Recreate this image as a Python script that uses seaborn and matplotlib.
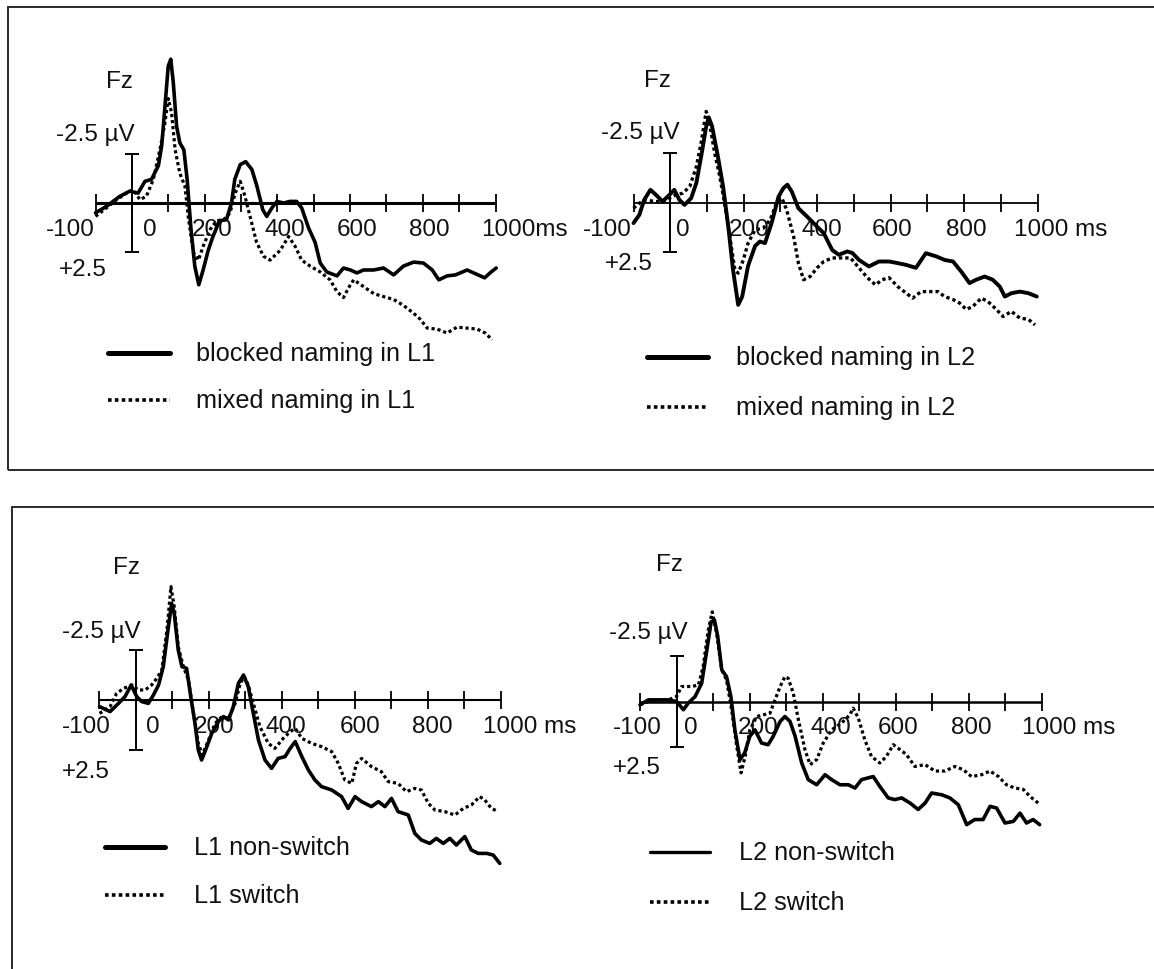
import numpy as np
import pandas as pd
import matplotlib
matplotlib.use("Agg")
import matplotlib.pyplot as plt
import seaborn as sns
from matplotlib.lines import Line2D
from matplotlib.patches import Rectangle

# ---------------- data (ms, µV; positive values plotted downward) ----------------
TICKS = [-100, 0, 100, 200, 300, 400, 500, 600, 700, 800, 900, 1000]
TICK_LABELS = ["-100", "0", "200", "400", "600", "800"]
CAL_UV = 2.5

tl_blocked_x = [-100,-70,-33,-6,17,36,54,73,82,91,100,107,114,123,132,143,152,162,173,184,
                196,210,223,241,260,274,283,298,313,330,344,360,371,385,399,417,435,453,467,486,
                504,518,536,564,582,601,619,637,665,692,720,747,775,802,826,844,867,890,922,940,
                970,988,1002]
tl_blocked_y = [0.5,0.17,-0.34,-0.6,-0.5,-1.1,-1.2,-1.9,-2.9,-4.9,-6.95,-7.3,-6.1,-3.9,-3.05,-2.7,-1.2,1.2,3.2,4.15,
                3.4,2.4,1.7,0.9,0.85,0,-1.2,-1.95,-2.1,-1.7,-0.85,0.34,0.68,0.25,-0.08,0,-0.08,-0.08,0.25,1.27,
                2.0,3.05,3.5,3.7,3.3,3.4,3.55,3.4,3.4,3.3,3.65,3.2,3.0,3.05,3.4,3.9,3.7,3.65,3.4,3.55,
                3.8,3.5,3.3]
tl_mixed_x = [-100,-70,-42,-15,4,22,40,59,77,91,100,109,119,132,146,155,169,183,196,215,
              233,252,270,284,298,311,325,343,362,380,408,431,449,467,490,518,545,564,582,596,
              610,637,665,692,720,747,775,793,812,839,867,894,922,949,972,991]
tl_mixed_y = [0.68,0.25,-0.17,-0.5,-0.68,-0.17,-0.34,-1.2,-2.7,-4.07,-5.3,-4.6,-2.7,-1.5,-0.85,0.68,2.5,2.9,2.2,1.35,
              0.9,0.85,0.5,-0.5,-1.1,-0.34,0.68,2.0,2.7,2.9,2.4,1.7,2.2,2.9,3.2,3.5,3.9,4.5,4.8,4.3,
              3.9,4.24,4.6,4.75,4.9,5.2,5.6,5.9,6.35,6.4,6.6,6.3,6.35,6.4,6.6,6.95]

tr_blocked_x = [-100,-84,-71,-54,-39,-21,-2,11,25,39,57,71,84,98,105,114,130,144,158,171,
                185,196,212,231,244,258,276,295,308,319,331,349,372,395,418,441,459,482,496,514,
                541,568,596,619,642,669,696,724,747,770,792,815,833,856,878,897,911,929,952,975,998]
tr_blocked_y = [1.04,0.62,-0.13,-0.64,-0.39,-0.05,-0.39,-0.64,-0.13,0.12,-0.22,-0.98,-2.3,-3.84,-4.3,-3.84,-2.3,-0.8,1.2,3.4,
                5.17,4.75,3.2,2.2,1.97,2.05,1.04,-0.3,-0.72,-0.9,-0.55,0.29,0.7,1.13,1.55,2.4,2.64,2.47,2.55,2.9,
                3.23,2.98,2.98,3.06,3.15,3.3,2.56,2.72,2.9,2.98,3.48,4.07,3.9,3.74,3.9,4.24,4.75,4.58,4.5,4.58,4.75]
tr_mixed_x = [-100,-84,-66,-43,-21,-2,16,34,53,71,84,98,107,121,135,148,162,176,185,199,
              212,231,253,272,290,304,317,336,349,363,381,400,418,441,468,491,514,537,559,577,
              596,619,637,660,683,706,729,747,770,788,806,824,847,865,888,906,929,952,975,993]
tr_mixed_y = [0.29,0.03,-0.13,-0.05,-0.05,-0.22,-0.39,-0.47,-0.8,-1.8,-3.0,-4.6,-4.0,-2.5,-1.3,0.03,1.7,3.4,3.57,2.9,
              2.05,1.38,1.3,0.88,0,-0.22,0.37,1.72,3.06,3.9,3.74,3.3,2.98,2.8,2.8,2.8,3.3,3.8,4.16,3.9,
              3.8,4.24,4.5,4.83,4.5,4.5,4.5,4.75,4.9,5.08,5.4,5.25,4.83,5.0,5.4,5.76,5.5,5.84,5.9,6.18]

bl_nonswitch_x = [-100,-71,-48,-30,-13,2,16,34,48,62,75,89,98,105,116,126,139,151,162,171,
                  180,191,208,226,240,254,267,281,295,308,322,336,354,372,390,409,423,437,455,473,
                  491,509,537,564,582,601,619,646,665,683,701,719,747,765,783,806,824,843,861,879,
                  902,920,939,962,980,998]
bl_nonswitch_y = [0.33,0.58,0.17,-0.17,-0.75,-0.17,0.08,0.17,-0.25,-0.75,-1.67,-3.67,-4.83,-4.33,-2.5,-1.67,-1.58,-0.08,1.17,2.5,
                  3.0,2.5,1.67,1.08,0.83,1.0,0.33,-0.83,-1.25,-0.67,0.67,2.0,3.0,3.42,2.92,2.83,2.42,2.08,2.83,3.5,
                  4.0,4.33,4.5,4.83,5.42,4.83,5.08,5.33,5.08,5.33,4.92,5.58,5.75,6.67,7.0,7.17,6.92,7.17,6.92,7.25,
                  6.83,7.5,7.67,7.67,7.75,8.17]
bl_switch_x = [-100,-71,-53,-34,-11,7,25,43,57,71,85,96,105,116,130,144,158,171,182,199,
               217,236,254,272,286,297,308,322,340,363,381,404,423,437,455,482,509,537,555,573,
               592,605,619,646,673,692,719,742,765,783,802,820,847,875,898,920,943,957,975,994]
bl_switch_y = [0.67,0.33,-0.33,-0.58,-0.75,-0.5,-0.5,-0.75,-1.08,-1.5,-3.5,-5.67,-4.67,-2.67,-1.67,-1.0,0.67,2.17,2.75,2.0,
               1.17,0.83,0.92,0.17,-0.83,-1.17,-0.75,0.17,1.33,2.17,2.42,1.92,1.58,1.42,1.92,2.17,2.33,2.58,3.17,4.0,
               4.17,3.17,2.92,3.33,3.58,4.08,4.17,4.58,4.42,4.5,5.17,5.5,5.58,5.75,5.42,5.25,4.83,5.0,5.42,5.58]

br_nonswitch_x = [-100,-77,-50,-22,0,19,32,51,69,83,95,104,113,124,137,149,160,174,187,201,
                  215,233,251,265,284,297,311,325,343,361,384,407,425,448,471,489,507,539,557,580,
                  598,617,640,662,681,699,727,749,772,795,817,840,859,877,900,923,941,959,977,995]
br_nonswitch_y = [0.18,-0.09,-0.09,-0.09,0,0.45,0.09,-0.27,-1.0,-2.8,-4.36,-4.45,-3.55,-1.73,-1.36,-0.27,1.55,3.18,2.8,1.9,
                  1.55,2.27,2.36,1.9,1.09,0.82,1.09,1.9,3.36,4.27,4.55,4.0,4.27,4.55,4.55,4.73,4.27,4.1,4.64,5.27,
                  5.36,5.27,5.55,5.9,5.55,5.0,5.1,5.27,5.64,6.73,6.45,6.45,5.73,5.82,6.64,6.55,6.1,6.64,6.45,6.73]
br_switch_x = [-100,-77,-50,-22,0,14,42,60,73,87,98,110,124,137,151,165,177,188,201,220,
               238,256,270,284,297,306,320,334,352,366,384,402,425,452,475,484,498,516,534,557,
               575,594,607,630,653,681,708,735,763,786,808,836,859,882,904,927,950,968,991]
br_switch_y = [0.18,0,-0.09,-0.09,-0.27,-0.82,-0.82,-0.9,-1.9,-3.9,-4.9,-3.7,-1.73,-1.18,0.45,2.45,3.9,3.0,1.55,0.82,
               0.73,0.64,-0.09,-0.82,-1.36,-1.27,-0.45,1.0,2.64,3.45,3.18,2.27,1.55,1.18,0.73,0.36,0.9,2.1,3.0,3.36,
               3.0,2.36,2.55,2.9,3.55,3.45,3.8,3.8,3.55,3.73,4.1,4.0,3.8,4.1,4.55,4.73,4.8,5.18,5.55]

LEGEND_LABELS = {
    "tl": ["blocked naming in L1", "mixed naming in L1"],
    "tr": ["blocked naming in L2", "mixed naming in L2"],
    "bl": ["L1 non-switch", "L1 switch"],
    "br": ["L2 non-switch", "L2 switch"],
}
END_LABELS = {"tl": "1000ms", "tr": "1000 ms", "bl": "1000 ms", "br": "1000 ms"}

# ---------------- layout (pixels) ----------------
W, H = 1154, 969
LAYOUT = {
    "tl": dict(L=95.5, R=495.5, Y0=203, S=19.7, alw=2.2, slw=2.6, dlw=2.3,
               fz=(-35, 121), uv=(-101, 68), p25=(-134, 67), m100=-170, zero=48,
               tpos=[220, 421, 619, 817], end=960,
               leg=dict(x0=108, x1=170, y1=353, y2=400, tx=196), leglw=3.6),
    "tr": dict(L=633.5, R=1037.5, Y0=202.5, S=19.8, alw=1.3, slw=2.8, dlw=2.4,
               fz=(-34, 122), uv=(-81, 70), p25=(-114, 61), m100=-171, zero=35,
               tpos=[216, 413, 604, 805], end=937,
               leg=dict(x0=647, x1=708, y1=357, y2=407, tx=736), leglw=3.6),
    "bl": dict(L=99.5, R=500.5, Y0=700, S=20.0, alw=1.5, slw=2.6, dlw=2.3,
               fz=(-26, 132), uv=(-96, 68), p25=(-138, 72), m100=-136, zero=47,
               tpos=[214, 412, 614, 813], end=953,
               leg=dict(x0=105, x1=165, y1=847, y2=895, tx=194), leglw=3.6),
    "br": dict(L=640, R=1041.5, Y0=701.5, S=18.3, alw=1.8, slw=2.6, dlw=2.3,
               fz=(-20, 136), uv=(-77, 68), p25=(-109, 67), m100=-108, zero=40,
               tpos=[223, 422, 607, 808], end=947,
               leg=dict(x0=650, x1=710, y1=852, y2=902, tx=739), leglw=2.4),
}
SERIES = {
    "tl": [(tl_blocked_x, tl_blocked_y), (tl_mixed_x, tl_mixed_y)],
    "tr": [(tr_blocked_x, tr_blocked_y), (tr_mixed_x, tr_mixed_y)],
    "bl": [(bl_nonswitch_x, bl_nonswitch_y), (bl_switch_x, bl_switch_y)],
    "br": [(br_nonswitch_x, br_nonswitch_y), (br_switch_x, br_switch_y)],
}

sns.set_theme(style="white")
plt.rcParams["font.family"] = ["Liberation Sans", "DejaVu Sans"]
FS = 17.5
FS_LEG = 18.2
TXT = "#111111"
DOT = (0, (1, 0.9))

fig = plt.figure(figsize=(W / 100, H / 100), dpi=100)
fig.patch.set_facecolor("white")


def fx(px):
    return px / W


def fy(py):
    return 1 - py / H


# panel frames
fig.add_artist(Rectangle((fx(8), fy(470)), fx(1170 - 8), (470 - 7) / H,
                         transform=fig.transFigure, fill=False, ec="#2a2a2a", lw=1.4))
fig.add_artist(Rectangle((fx(12), fy(1010)), fx(1170 - 12), (1010 - 507.5) / H,
                         transform=fig.transFigure, fill=False, ec="#2a2a2a", lw=1.4))

XMIN, XMAX = -260, 1160
YMIN, YMAX = -9.0, 10.5

for key, lay in LAYOUT.items():
    L, R, Y0, S = lay["L"], lay["R"], lay["Y0"], lay["S"]
    ppm = (R - L) / 1100.0
    left = L + (XMIN + 100) * ppm
    width = (XMAX - XMIN) * ppm
    top = Y0 + YMIN * S
    bottom = Y0 + YMAX * S
    ax = fig.add_axes([fx(left), fy(bottom), width / W, (bottom - top) / H])
    ax.set_xlim(XMIN, XMAX)
    ax.set_ylim(YMAX, YMIN)
    ax.axis("off")
    ax.patch.set_alpha(0)

    # time axis with ticks
    th = 9.0 / S
    ax.hlines(0, TICKS[0], TICKS[-1], color="black", lw=lay["alw"], zorder=2)
    ax.vlines(TICKS, -th, th, color="black", lw=1.3, zorder=2)
    # calibration bar
    ax.errorbar([0], [0], yerr=[CAL_UV], fmt="none", ecolor="black",
                elinewidth=1.4, capsize=5, capthick=1.4, zorder=2)

    (sx, sy), (dx, dy) = SERIES[key]
    df_s = pd.DataFrame({"ms": sx, "uv": sy})
    df_d = pd.DataFrame({"ms": dx, "uv": dy})
    sns.lineplot(data=df_d, x="ms", y="uv", ax=ax, color="black", lw=lay["dlw"],
                 linestyle=DOT, sort=False, estimator=None, zorder=3)
    sns.lineplot(data=df_s, x="ms", y="uv", ax=ax, color="black", lw=lay["slw"],
                 sort=False, estimator=None, zorder=4, solid_joinstyle="round")
    if ax.get_legend() is not None:
        ax.get_legend().remove()

    # labels
    ly = 27.0 / S
    ax.text(lay["m100"], ly, TICK_LABELS[0], ha="center", va="center", fontsize=FS, color=TXT)
    ax.text(lay["zero"], ly, TICK_LABELS[1], ha="center", va="center", fontsize=FS, color=TXT)
    for pos, lab in zip(lay["tpos"], TICK_LABELS[2:]):
        ax.text(pos, ly, lab, ha="center", va="center", fontsize=FS, color=TXT)
    ax.text(lay["end"], ly, END_LABELS[key], ha="left", va="center", fontsize=FS, color=TXT)
    ax.text(lay["fz"][0], -lay["fz"][1] / S, "Fz", ha="center", va="center", fontsize=FS, color=TXT)
    ax.text(lay["uv"][0], -lay["uv"][1] / S, "-2.5 µV", ha="center", va="center", fontsize=FS, color=TXT)
    ax.text(lay["p25"][0], lay["p25"][1] / S, "+2.5", ha="center", va="center", fontsize=FS, color=TXT)

    # legend
    lg = lay["leg"]
    labs = LEGEND_LABELS[key]
    fig.add_artist(Line2D([fx(lg["x0"]), fx(lg["x1"])], [fy(lg["y1"]), fy(lg["y1"])],
                          transform=fig.transFigure, color="black", lw=lay["leglw"]))
    fig.add_artist(Line2D([fx(lg["x0"]), fx(lg["x1"])], [fy(lg["y2"]), fy(lg["y2"])],
                          transform=fig.transFigure, color="black", lw=2.6, linestyle=DOT))
    fig.text(fx(lg["tx"]), fy(lg["y1"] + 1), labs[0], ha="left", va="center", fontsize=FS_LEG, color=TXT)
    fig.text(fx(lg["tx"]), fy(lg["y2"] + 1), labs[1], ha="left", va="center", fontsize=FS_LEG, color=TXT)

fig.savefig("out.png", dpi=100, facecolor="white")
